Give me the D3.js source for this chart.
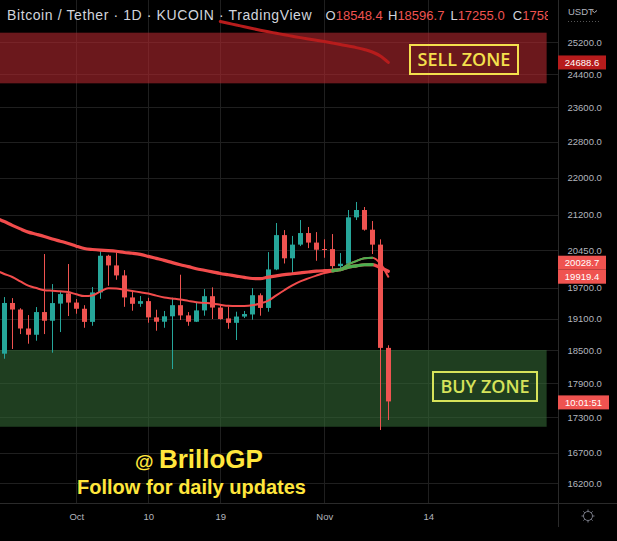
<!DOCTYPE html>
<html>
<head>
<meta charset="utf-8">
<script src="https://cdn.jsdelivr.net/npm/d3@7"></script>
<style>
  html, body { margin: 0; padding: 0; background: #000; }
  svg { display: block; font-family: "Liberation Sans", Arial, sans-serif; }
</style>
</head>
<body>
<svg id="chart" width="617" height="541"></svg>
<script>
// daily candles, BTC/USDT, Sep 22 -> Nov 9 2022
const firstDay = "2022-09-22";
const opens = [18441, 19402, 19275, 18912, 18794, 19226, 19060, 19390, 19590, 19410, 19290, 19038, 19608, 20342, 20146, 19945, 19510, 19386, 19438, 19124, 19041, 19145, 19359, 19162, 19041, 19258, 19534, 19313, 19104, 19020, 19140, 19180, 19553, 19306, 20065, 20767, 20290, 20570, 20810, 20612, 20480, 20478, 20132, 20180, 21140, 21296, 20880, 20570, 18548.4];
const highs = [19517, 19497, 19300, 19169, 19323, 20377, 19773, 19621, 20174, 19478, 19359, 19714, 20458, 20362, 20410, 20052, 19621, 19537, 19503, 19271, 19247, 19503, 19959, 19226, 19425, 19674, 19708, 19365, 19334, 19233, 19247, 19694, 19590, 20417, 21020, 20872, 20750, 21083, 20937, 20830, 20680, 20789, 20397, 21296, 21468, 21360, 21062, 20680, 18596.7];
const lows = [18348, 18528, 18807, 18626, 18682, 18807, 18459, 18845, 19150, 19194, 18926, 18964, 19483, 19740, 19858, 19327, 19252, 19327, 19022, 18870, 18926, 18160, 19073, 18964, 19035, 19156, 19092, 19079, 18907, 18695, 19111, 19079, 19156, 19233, 20050, 20185, 19990, 20540, 20499, 20240, 20301, 20072, 20032, 20150, 21083, 20860, 20377, 17083, 17255.0];
const closes = [19402, 19275, 18912, 18794, 19226, 19060, 19400, 19576, 19410, 19290, 19038, 19608, 20342, 20146, 19945, 19510, 19386, 19438, 19124, 19041, 19145, 19359, 19162, 19041, 19258, 19534, 19313, 19092, 19020, 19140, 19188, 19553, 19306, 20065, 20767, 20290, 20570, 20810, 20612, 20465, 20462, 20132, 20180, 21140, 21296, 20880, 20570, 18548.4, 17580];

// moving averages, one day earlier than the candles so the lines reach the left edge
const maStart = "2022-09-21";
const maSlow = [21125, 21051, 20971, 20897, 20829, 20785, 20739, 20687, 20641, 20594, 20538, 20491, 20470, 20456, 20448, 20434, 20409, 20393, 20370, 20330, 20289, 20248, 20202, 20159, 20121, 20080, 20048, 20016, 19984, 19958, 19932, 19906, 19884, 19880, 19912, 19936, 19962, 19978, 19996, 20014, 20030, 20040, 20048, 20062, 20111, 20137, 20159, 20163, 20103, 20028.7];
const maFast = [20042, 19974, 19914, 19827, 19741, 19694, 19653, 19641, 19631, 19615, 19572, 19537, 19549, 19625, 19688, 19686, 19662, 19637, 19611, 19586, 19545, 19510, 19490, 19470, 19443, 19418, 19404, 19389, 19367, 19346, 19342, 19342, 19356, 19393, 19447, 19551, 19651, 19745, 19825, 19886, 19942, 19993, 20022, 20066, 20167, 20234, 20291, 20303, 20185, 19919.4];
const maGreenDays = ["2022-11-03", "2022-11-04", "2022-11-05", "2022-11-06", "2022-11-07"];
const longStart = "2022-10-19";
const maLong = [25723, 25677, 25633, 25587, 25543, 25500, 25459, 25421, 25382, 25347, 25311, 25276, 25243, 25210, 25175, 25139, 25099, 25059, 25011, 24949, 24849, 24688.6];

// zones [low, high] and their right end
const sellZone = [24178, 25436];
const buyZone = [17139, 18509];
const zoneFrom = "2022-09-01", zoneTo = "2022-11-28T19:00";

const priceTicks = [25200, 24400, 23600, 22800, 22000, 21200, 20450, 19700, 19100, 18500, 17900, 17300, 16700, 16200];
const dateTicks = ["2022-10-01", "2022-10-10", "2022-10-19", "2022-11-01", "2022-11-14"];

const header = "Bitcoin / Tether \u00b7 1D \u00b7 KUCOIN \u00b7 TradingView";
const countdown = "10:01:51";

const W = 617, H = 541, plotR = 558, plotB = 503;
const RED = "#ef5350", GREEN = "#26a69a", AXIS_TXT = "#b2b5be";
const parse = s => new Date(s + (s.length > 10 ? ":00Z" : "T00:00:00Z"));
const fmtDay = d3.utcFormat("%Y-%m-%d");
const fmtPrice = d3.format(".1f");

const days = d3.utcDays(parse(firstDay), d3.utcDay.offset(parse(firstDay), opens.length));
const candles = days.map((date, i) => ({ date, o: opens[i], h: highs[i], l: lows[i], c: closes[i] }));

const x = d3.scaleUtc()
  .domain([days[0], days[days.length - 1]])
  .range([4.3, 388.3]);
const y = d3.scaleLog().domain([16200, 25200]).range([483, 42]);

const svg = d3.select("#chart");
svg.append("rect").attr("width", W).attr("height", H).attr("fill", "#000");

const defs = svg.append("defs");
defs.append("clipPath").attr("id", "plot").append("rect")
  .attr("width", plotR).attr("height", plotB);
defs.append("clipPath").attr("id", "legend").append("rect")
  .attr("width", 548).attr("height", 30);

const plot = svg.append("g").attr("clip-path", "url(#plot)");

// grid
plot.append("g").selectAll("line").data(priceTicks).join("line")
  .attr("x1", 0).attr("x2", plotR)
  .attr("y1", d => Math.round(y(d)) + 0.5).attr("y2", d => Math.round(y(d)) + 0.5)
  .attr("stroke", "#1f1f1f");
plot.append("g").selectAll("line").data(dateTicks.map(parse)).join("line")
  .attr("y1", 0).attr("y2", plotB)
  .attr("x1", d => Math.round(x(d)) + 0.5).attr("x2", d => Math.round(x(d)) + 0.5)
  .attr("stroke", "#1f1f1f");

// zones
const zones = [
  { range: sellZone, fill: "#b2282f" },
  { range: buyZone, fill: "#346735" }
];
plot.append("g").selectAll("rect").data(zones).join("rect")
  .attr("x", x(parse(zoneFrom)))
  .attr("width", x(parse(zoneTo)) - x(parse(zoneFrom)))
  .attr("y", d => y(d.range[1]))
  .attr("height", d => y(d.range[0]) - y(d.range[1]))
  .attr("fill", d => d.fill)
  .attr("fill-opacity", 0.6);

// candles
const cg = plot.append("g").selectAll("g").data(candles).join("g")
  .attr("fill", d => d.c >= d.o ? GREEN : RED)
  .attr("stroke", d => d.c >= d.o ? GREEN : RED);
cg.append("line")
  .attr("x1", d => Math.round(x(d.date)) + 0.5)
  .attr("x2", d => Math.round(x(d.date)) + 0.5)
  .attr("y1", d => y(d.h)).attr("y2", d => y(d.l));
cg.append("rect")
  .attr("stroke", "none")
  .attr("x", d => Math.round(x(d.date)) - 2)
  .attr("width", 5)
  .attr("y", d => y(Math.max(d.o, d.c)))
  .attr("height", d => Math.max(1, Math.abs(y(d.o) - y(d.c))));

// moving averages
const maDays = d3.utcDays(parse(maStart), d3.utcDay.offset(parse(maStart), maSlow.length));
const line = d3.line().x(d => x(d.date)).y(d => y(d.v)).curve(d3.curveMonotoneX);

function drawMA(values, dates, width, color) {
  const pts = values.map((v, i) => ({ date: dates[i], v }));
  plot.append("path").datum(pts)
    .attr("d", line).attr("fill", "none")
    .attr("stroke", color).attr("stroke-width", width)
    .attr("stroke-linejoin", "round").attr("stroke-linecap", "round");
  return pts;
}
function greenPart(pts, width) {
  const idx = pts.map((p, i) => maGreenDays.includes(fmtDay(p.date)) ? i : -1).filter(i => i >= 0);
  const part = pts.slice(idx[0] - 1, idx[idx.length - 1] + 1);
  plot.append("path").datum(part)
    .attr("d", line).attr("fill", "none")
    .attr("stroke", "#4caf50").attr("stroke-width", width)
    .attr("stroke-linecap", "round");
}
const longDays = d3.utcDays(parse(longStart), d3.utcDay.offset(parse(longStart), maLong.length));
drawMA(maLong, longDays, 3, "#b71c1c");
const slowPts = drawMA(maSlow, maDays, 3.2, "#f24c4c");
greenPart(slowPts, 3.2);
const fastPts = drawMA(maFast, maDays, 2, "#f24c4c");
greenPart(fastPts, 2);

// zone labels
const zoneLabels = [
  { text: "SELL ZONE", x: 410, y: 45, w: 108, h: 29, color: "#f4e04d" },
  { text: "BUY ZONE", x: 433, y: 372, w: 104, h: 29, color: "#d6e35a" }
];
const zl = plot.append("g").selectAll("g").data(zoneLabels).join("g");
zl.append("rect")
  .attr("x", d => d.x).attr("y", d => d.y).attr("width", d => d.w).attr("height", d => d.h)
  .attr("fill", "none").attr("stroke", d => d.color).attr("stroke-width", 2);
zl.append("text")
  .attr("x", d => d.x + d.w / 2).attr("y", d => d.y + d.h / 2 + 6.5)
  .attr("text-anchor", "middle")
  .attr("fill", d => d.color)
  .style("font-family", "'Open Sans', sans-serif")
  .style("font-weight", 600)
  .style("font-size", "18px")
  .text(d => d.text);

// watermark
const wm = svg.append("g").attr("fill", "#ffe63c").style("font-weight", "bold");
wm.append("text").attr("x", 199).attr("y", 468).attr("text-anchor", "middle")
  .style("font-size", "26px")
  .call(t => {
    t.append("tspan").style("font-size", "19px").text("@ ");
    t.append("tspan").text("BrilloGP");
  });
wm.append("text").attr("x", 191.5).attr("y", 494).attr("text-anchor", "middle")
  .style("font-size", "20px").text("Follow for daily updates");

// axes frame
svg.append("line").attr("x1", plotR + 0.5).attr("x2", plotR + 0.5).attr("y1", 0).attr("y2", 527)
  .attr("stroke", "#2a2a2a");
svg.append("line").attr("x1", 0).attr("x2", W).attr("y1", plotB + 0.5).attr("y2", plotB + 0.5)
  .attr("stroke", "#2a2a2a");

const yAxis = svg.append("g").attr("transform", `translate(${plotR},0)`)
  .call(d3.axisRight(y).tickValues(priceTicks).tickFormat(fmtPrice).tickSize(0).tickPadding(9.5));
const xAxis = svg.append("g").attr("transform", `translate(0,${plotB})`)
  .call(d3.axisBottom(x).tickValues(dateTicks.map(parse)).tickSize(0).tickPadding(10)
    .tickFormat(d => d.getUTCDate() === 1 ? d3.utcFormat("%b")(d) : d3.utcFormat("%-d")(d)));
[yAxis, xAxis].forEach(a => {
  a.select(".domain").remove();
  a.selectAll("text").attr("fill", AXIS_TXT).style("font-size", "9.5px")
    .style("font-family", "'Liberation Sans', Arial, sans-serif");
});

// price labels on the scale
const maLabels = [
  { v: maSlow[maSlow.length - 1], fill: RED },
  { v: maFast[maFast.length - 1], fill: RED }
].map(d => ({ ...d, cy: y(d.v) })).sort((a, b) => a.cy - b.cy);
for (let k = maLabels.length - 2; k >= 0; k--) {
  if (maLabels[k + 1].cy - maLabels[k].cy < 14) maLabels[k].cy = maLabels[k + 1].cy - 14;
}
const scaleLabels = [
  { text: fmtPrice(maLong[maLong.length - 1]), cy: y(maLong[maLong.length - 1]), fill: "#b71c1c", w: 48 },
  ...maLabels.map(d => ({ text: fmtPrice(d.v), cy: d.cy, fill: d.fill, w: 48 })),
  { text: countdown, cy: y(closes[closes.length - 1]) + 1, fill: RED, w: 51 }
];
const sl = svg.append("g").selectAll("g").data(scaleLabels).join("g");
sl.append("rect")
  .attr("x", plotR).attr("y", d => d.cy - 7).attr("width", d => d.w).attr("height", 14)
  .attr("fill", d => d.fill);
sl.append("text")
  .attr("x", d => plotR + d.w / 2).attr("y", d => d.cy + 3.3)
  .attr("text-anchor", "middle").attr("fill", "#fff")
  .style("font-size", "9.5px").text(d => d.text);

// legend
const legend = svg.append("g").attr("clip-path", "url(#legend)");
legend.append("text").attr("x", 7).attr("y", 20).attr("fill", "#d1d4dc")
  .style("font-size", "14px").style("letter-spacing", "0.6px").text(header);
const last = candles[candles.length - 1];
const ohlc = [["O", last.o], ["H", last.h], ["L", last.l], ["C", last.c]];
legend.selectAll("text.ohlc").data(ohlc).join("text").attr("class", "ohlc")
  .attr("x", (d, i) => 325.6 + i * 62.4).attr("y", 20)
  .style("font-size", "13px")
  .call(t => {
    t.append("tspan").attr("fill", "#d1d4dc").text(d => d[0]);
    t.append("tspan").attr("fill", RED).text(d => fmtPrice(d[1]));
  });

// currency selector
svg.append("text").attr("x", 568).attr("y", 15).attr("fill", AXIS_TXT)
  .style("font-size", "9.5px").text("USDT");
svg.append("path").attr("d", "M592,10.5 L594.5,12.5 L597,10.5").attr("fill", "none")
  .attr("stroke", AXIS_TXT).attr("stroke-width", 1);
svg.append("line").attr("x1", 568).attr("x2", 600).attr("y1", 21.5).attr("y2", 21.5)
  .attr("stroke", "#555").attr("stroke-dasharray", "1,2");

// settings gear
const gear = svg.append("g").attr("transform", "translate(588,516)")
  .attr("stroke", "#787b86").attr("fill", "none");
gear.append("circle").attr("r", 4.5);
gear.selectAll("line").data(d3.range(8)).join("line")
  .attr("x1", a => 4.5 * Math.cos(a * Math.PI / 4)).attr("y1", a => 4.5 * Math.sin(a * Math.PI / 4))
  .attr("x2", a => 6.5 * Math.cos(a * Math.PI / 4)).attr("y2", a => 6.5 * Math.sin(a * Math.PI / 4));
</script>
</body>
</html>
